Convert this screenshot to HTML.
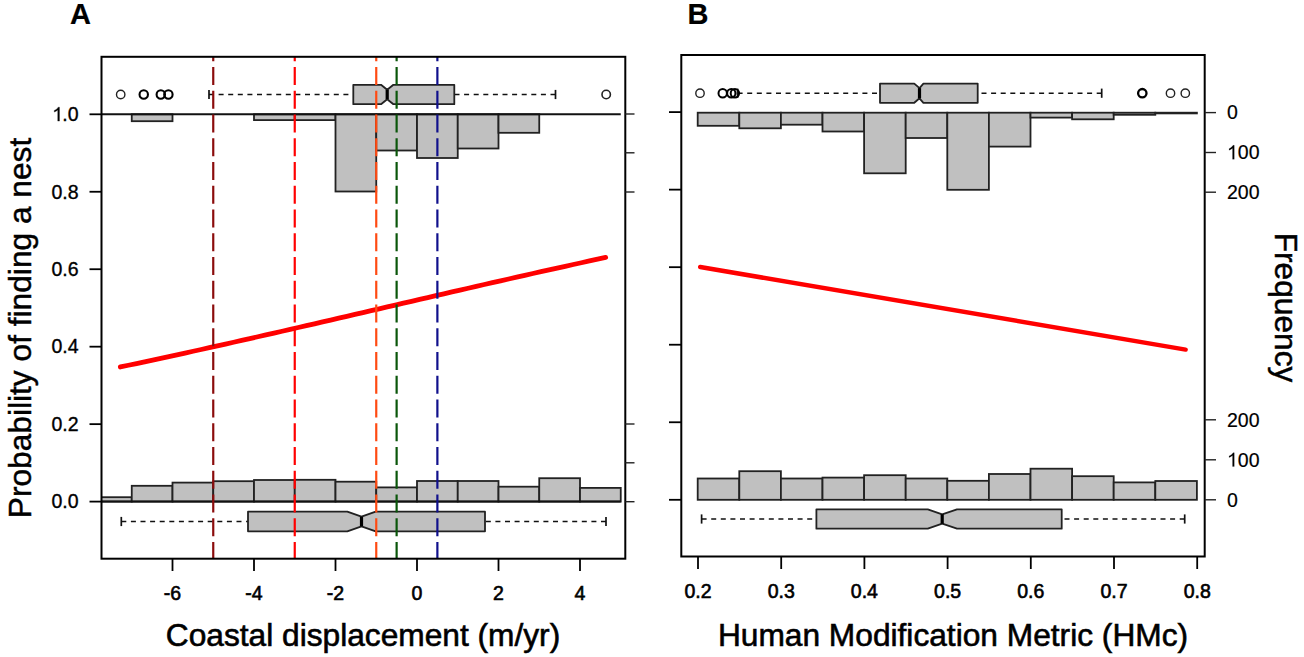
<!DOCTYPE html>
<html><head><meta charset="utf-8"><style>html,body{margin:0;padding:0;background:#fff;width:1304px;height:657px;overflow:hidden}</style></head><body>
<svg width="1304" height="657" viewBox="0 0 1304 657" style="display:block">
<rect width="1304" height="657" fill="#fff"/>
<g font-family='"Liberation Sans", sans-serif' fill="#000">
<defs><clipPath id="cA"><rect x="101.5" y="56.8" width="523.8" height="501.90000000000003"/></clipPath><clipPath id="cB"><rect x="681.3" y="55.0" width="523.4000000000001" height="501.5"/></clipPath></defs>
<g clip-path="url(#cA)">
<rect x="131.75" y="114.30" width="40.75" height="6.90" fill="#c0c0c0" stroke="#222" stroke-width="1.8"/>
<rect x="254.00" y="114.30" width="40.75" height="5.80" fill="#c0c0c0" stroke="#222" stroke-width="1.8"/>
<rect x="294.75" y="114.30" width="40.75" height="5.80" fill="#c0c0c0" stroke="#222" stroke-width="1.8"/>
<rect x="335.50" y="114.30" width="40.75" height="77.20" fill="#c0c0c0" stroke="#222" stroke-width="1.8"/>
<rect x="376.25" y="114.30" width="40.75" height="36.20" fill="#c0c0c0" stroke="#222" stroke-width="1.8"/>
<rect x="417.00" y="114.30" width="40.75" height="43.70" fill="#c0c0c0" stroke="#222" stroke-width="1.8"/>
<rect x="457.75" y="114.30" width="40.75" height="34.20" fill="#c0c0c0" stroke="#222" stroke-width="1.8"/>
<rect x="498.50" y="114.30" width="40.75" height="18.50" fill="#c0c0c0" stroke="#222" stroke-width="1.8"/>
<rect x="91.00" y="497.20" width="40.75" height="4.40" fill="#c0c0c0" stroke="#222" stroke-width="1.8"/>
<rect x="131.75" y="485.80" width="40.75" height="15.80" fill="#c0c0c0" stroke="#222" stroke-width="1.8"/>
<rect x="172.50" y="482.60" width="40.75" height="19.00" fill="#c0c0c0" stroke="#222" stroke-width="1.8"/>
<rect x="213.25" y="481.20" width="40.75" height="20.40" fill="#c0c0c0" stroke="#222" stroke-width="1.8"/>
<rect x="254.00" y="480.00" width="40.75" height="21.60" fill="#c0c0c0" stroke="#222" stroke-width="1.8"/>
<rect x="294.75" y="479.80" width="40.75" height="21.80" fill="#c0c0c0" stroke="#222" stroke-width="1.8"/>
<rect x="335.50" y="481.70" width="40.75" height="19.90" fill="#c0c0c0" stroke="#222" stroke-width="1.8"/>
<rect x="376.25" y="487.40" width="40.75" height="14.20" fill="#c0c0c0" stroke="#222" stroke-width="1.8"/>
<rect x="417.00" y="481.00" width="40.75" height="20.60" fill="#c0c0c0" stroke="#222" stroke-width="1.8"/>
<rect x="457.75" y="481.00" width="40.75" height="20.60" fill="#c0c0c0" stroke="#222" stroke-width="1.8"/>
<rect x="498.50" y="486.70" width="40.75" height="14.90" fill="#c0c0c0" stroke="#222" stroke-width="1.8"/>
<rect x="539.25" y="478.20" width="40.75" height="23.40" fill="#c0c0c0" stroke="#222" stroke-width="1.8"/>
<rect x="580.00" y="487.90" width="40.75" height="13.70" fill="#c0c0c0" stroke="#222" stroke-width="1.8"/>
<line x1="91.00" y1="114.30" x2="620.75" y2="114.30" stroke="#111" stroke-width="2.0" />
<line x1="91.00" y1="501.60" x2="620.75" y2="501.60" stroke="#111" stroke-width="2.0" />
</g>
<line x1="209.00" y1="94.50" x2="353.30" y2="94.50" stroke="#111" stroke-width="1.5" stroke-dasharray="5 4.6"/>
<line x1="555.50" y1="94.50" x2="454.30" y2="94.50" stroke="#111" stroke-width="1.5" stroke-dasharray="5 4.6"/>
<line x1="209.00" y1="89.90" x2="209.00" y2="99.10" stroke="#111" stroke-width="1.7" />
<line x1="555.50" y1="89.90" x2="555.50" y2="99.10" stroke="#111" stroke-width="1.7" />
<polygon points="353.30,84.80 381.00,84.80 387.20,89.80 393.40,84.80 454.30,84.80 454.30,104.20 393.40,104.20 387.20,99.20 381.00,104.20 353.30,104.20" fill="#c0c0c0" stroke="#222" stroke-width="1.8" stroke-linejoin="round"/>
<line x1="387.20" y1="89.80" x2="387.20" y2="99.20" stroke="#000" stroke-width="3.2" />
<circle cx="120.70" cy="94.50" r="4.2" fill="none" stroke="#222" stroke-width="1.4"/>
<circle cx="143.75" cy="94.50" r="4.2" fill="none" stroke="#000" stroke-width="2.1"/>
<circle cx="160.80" cy="94.50" r="4.2" fill="none" stroke="#000" stroke-width="2.1"/>
<circle cx="168.40" cy="94.50" r="4.2" fill="none" stroke="#000" stroke-width="2.1"/>
<circle cx="606.20" cy="94.50" r="4.2" fill="none" stroke="#222" stroke-width="1.6"/>
<line x1="121.30" y1="521.50" x2="248.00" y2="521.50" stroke="#111" stroke-width="1.5" stroke-dasharray="5 4.6"/>
<line x1="606.00" y1="521.50" x2="485.00" y2="521.50" stroke="#111" stroke-width="1.5" stroke-dasharray="5 4.6"/>
<line x1="121.30" y1="516.90" x2="121.30" y2="526.10" stroke="#111" stroke-width="1.7" />
<line x1="606.00" y1="516.90" x2="606.00" y2="526.10" stroke="#111" stroke-width="1.7" />
<polygon points="248.00,511.70 347.30,511.70 361.50,516.70 375.70,511.70 485.00,511.70 485.00,531.30 375.70,531.30 361.50,526.30 347.30,531.30 248.00,531.30" fill="#c0c0c0" stroke="#222" stroke-width="1.8" stroke-linejoin="round"/>
<line x1="361.50" y1="516.70" x2="361.50" y2="526.30" stroke="#000" stroke-width="3.2" />
<polyline points="120.34,366.97 128.43,365.26 136.52,363.54 144.61,361.82 152.70,360.08 160.78,358.33 168.87,356.58 176.96,354.81 185.05,353.04 193.14,351.26 201.23,349.47 209.32,347.68 217.41,345.88 225.50,344.07 233.58,342.25 241.67,340.43 249.76,338.60 257.85,336.77 265.94,334.93 274.03,333.09 282.12,331.24 290.21,329.39 298.30,327.53 306.38,325.67 314.47,323.80 322.56,321.94 330.65,320.07 338.74,318.20 346.83,316.32 354.92,314.45 363.01,312.57 371.10,310.70 379.18,308.82 387.27,306.94 395.36,305.06 403.45,303.19 411.54,301.31 419.63,299.43 427.72,297.56 435.81,295.69 443.89,293.82 451.98,291.95 460.07,290.09 468.16,288.23 476.25,286.37 484.34,284.52 492.43,282.67 500.52,280.83 508.61,278.99 516.69,277.16 524.78,275.33 532.87,273.51 540.96,271.70 549.05,269.89 557.14,268.09 565.23,266.29 573.32,264.50 581.41,262.72 589.49,260.95 597.58,259.19 605.67,257.44" fill="none" stroke="#ff0000" stroke-width="4.8" stroke-linecap="round" stroke-linejoin="round"/>
<g clip-path="url(#cA)">
<line x1="213.25" y1="56.80" x2="213.25" y2="558.70" stroke="#8b0c0c" stroke-width="2.2" stroke-dasharray="18.1 5.65" stroke-dashoffset="13.65"/>
<line x1="294.75" y1="56.80" x2="294.75" y2="558.70" stroke="#ff0000" stroke-width="2.2" stroke-dasharray="18.1 5.65" stroke-dashoffset="13.65"/>
<line x1="376.25" y1="56.80" x2="376.25" y2="558.70" stroke="#ff4a12" stroke-width="2.2" stroke-dasharray="18.1 5.65" stroke-dashoffset="13.65"/>
<line x1="396.62" y1="56.80" x2="396.62" y2="558.70" stroke="#0a560a" stroke-width="2.2" stroke-dasharray="18.1 5.65" stroke-dashoffset="13.65"/>
<line x1="437.38" y1="56.80" x2="437.38" y2="558.70" stroke="#10108c" stroke-width="2.2" stroke-dasharray="18.1 5.65" stroke-dashoffset="13.65"/>
</g>
<rect x="101.5" y="56.8" width="523.80" height="501.90" fill="none" stroke="#000" stroke-width="2"/>
<line x1="89.50" y1="501.60" x2="101.50" y2="501.60" stroke="#000" stroke-width="1.8" />
<text x="78.50" y="508.40" font-size="19.5" text-anchor="end" font-weight="normal" stroke="#000" stroke-width="0.35">0.0</text>
<line x1="89.50" y1="424.14" x2="101.50" y2="424.14" stroke="#000" stroke-width="1.8" />
<text x="78.50" y="430.94" font-size="19.5" text-anchor="end" font-weight="normal" stroke="#000" stroke-width="0.35">0.2</text>
<line x1="89.50" y1="346.68" x2="101.50" y2="346.68" stroke="#000" stroke-width="1.8" />
<text x="78.50" y="353.48" font-size="19.5" text-anchor="end" font-weight="normal" stroke="#000" stroke-width="0.35">0.4</text>
<line x1="89.50" y1="269.22" x2="101.50" y2="269.22" stroke="#000" stroke-width="1.8" />
<text x="78.50" y="276.02" font-size="19.5" text-anchor="end" font-weight="normal" stroke="#000" stroke-width="0.35">0.6</text>
<line x1="89.50" y1="191.76" x2="101.50" y2="191.76" stroke="#000" stroke-width="1.8" />
<text x="78.50" y="198.56" font-size="19.5" text-anchor="end" font-weight="normal" stroke="#000" stroke-width="0.35">0.8</text>
<line x1="89.50" y1="114.30" x2="101.50" y2="114.30" stroke="#000" stroke-width="1.8" />
<text x="78.50" y="121.10" font-size="19.5" text-anchor="end" font-weight="normal" stroke="#000" stroke-width="0.35">&#8199;.0</text>
<path d="M59.46,121.10 L59.46,107.14 L58.29,107.14 L57.53,108.15 L56.19,109.39 L54.27,110.45 L54.27,112.10 L56.00,111.20 L57.75,110.01 L57.75,121.10Z" fill="#000" stroke="#000" stroke-width="0.3" stroke-linejoin="round"/>
<line x1="172.50" y1="558.70" x2="172.50" y2="571.00" stroke="#000" stroke-width="1.8" />
<text x="172.50" y="600.00" font-size="19.5" text-anchor="middle" font-weight="normal" stroke="#000" stroke-width="0.6" >-6</text>
<line x1="254.00" y1="558.70" x2="254.00" y2="571.00" stroke="#000" stroke-width="1.8" />
<text x="254.00" y="600.00" font-size="19.5" text-anchor="middle" font-weight="normal" stroke="#000" stroke-width="0.6" >-4</text>
<line x1="335.50" y1="558.70" x2="335.50" y2="571.00" stroke="#000" stroke-width="1.8" />
<text x="335.50" y="600.00" font-size="19.5" text-anchor="middle" font-weight="normal" stroke="#000" stroke-width="0.6" >-2</text>
<line x1="417.00" y1="558.70" x2="417.00" y2="571.00" stroke="#000" stroke-width="1.8" />
<text x="417.00" y="600.00" font-size="19.5" text-anchor="middle" font-weight="normal" stroke="#000" stroke-width="0.6" >0</text>
<line x1="498.50" y1="558.70" x2="498.50" y2="571.00" stroke="#000" stroke-width="1.8" />
<text x="498.50" y="600.00" font-size="19.5" text-anchor="middle" font-weight="normal" stroke="#000" stroke-width="0.6" >2</text>
<line x1="580.00" y1="558.70" x2="580.00" y2="571.00" stroke="#000" stroke-width="1.8" />
<text x="580.00" y="600.00" font-size="19.5" text-anchor="middle" font-weight="normal" stroke="#000" stroke-width="0.6" >4</text>
<line x1="625.30" y1="114.00" x2="634.50" y2="114.00" stroke="#222" stroke-width="1.4" />
<line x1="625.30" y1="152.80" x2="634.50" y2="152.80" stroke="#222" stroke-width="1.4" />
<line x1="625.30" y1="192.00" x2="634.50" y2="192.00" stroke="#222" stroke-width="1.4" />
<line x1="625.30" y1="424.00" x2="634.50" y2="424.00" stroke="#222" stroke-width="1.4" />
<line x1="625.30" y1="462.80" x2="634.50" y2="462.80" stroke="#222" stroke-width="1.4" />
<line x1="625.30" y1="501.70" x2="634.50" y2="501.70" stroke="#222" stroke-width="1.4" />
<g clip-path="url(#cB)">
<rect x="697.70" y="112.70" width="41.60" height="13.10" fill="#c0c0c0" stroke="#222" stroke-width="1.8"/>
<rect x="697.70" y="478.50" width="41.60" height="21.30" fill="#c0c0c0" stroke="#222" stroke-width="1.8"/>
<rect x="739.30" y="112.70" width="41.60" height="15.60" fill="#c0c0c0" stroke="#222" stroke-width="1.8"/>
<rect x="739.30" y="471.20" width="41.60" height="28.60" fill="#c0c0c0" stroke="#222" stroke-width="1.8"/>
<rect x="780.90" y="112.70" width="41.60" height="12.00" fill="#c0c0c0" stroke="#222" stroke-width="1.8"/>
<rect x="780.90" y="478.50" width="41.60" height="21.30" fill="#c0c0c0" stroke="#222" stroke-width="1.8"/>
<rect x="822.50" y="112.70" width="41.60" height="18.80" fill="#c0c0c0" stroke="#222" stroke-width="1.8"/>
<rect x="822.50" y="477.60" width="41.60" height="22.20" fill="#c0c0c0" stroke="#222" stroke-width="1.8"/>
<rect x="864.10" y="112.70" width="41.60" height="60.60" fill="#c0c0c0" stroke="#222" stroke-width="1.8"/>
<rect x="864.10" y="475.20" width="41.60" height="24.60" fill="#c0c0c0" stroke="#222" stroke-width="1.8"/>
<rect x="905.70" y="112.70" width="41.60" height="25.30" fill="#c0c0c0" stroke="#222" stroke-width="1.8"/>
<rect x="905.70" y="478.50" width="41.60" height="21.30" fill="#c0c0c0" stroke="#222" stroke-width="1.8"/>
<rect x="947.30" y="112.70" width="41.60" height="77.10" fill="#c0c0c0" stroke="#222" stroke-width="1.8"/>
<rect x="947.30" y="480.80" width="41.60" height="19.00" fill="#c0c0c0" stroke="#222" stroke-width="1.8"/>
<rect x="988.90" y="112.70" width="41.60" height="33.90" fill="#c0c0c0" stroke="#222" stroke-width="1.8"/>
<rect x="988.90" y="474.00" width="41.60" height="25.80" fill="#c0c0c0" stroke="#222" stroke-width="1.8"/>
<rect x="1030.50" y="112.70" width="41.60" height="4.90" fill="#c0c0c0" stroke="#222" stroke-width="1.8"/>
<rect x="1030.50" y="468.70" width="41.60" height="31.10" fill="#c0c0c0" stroke="#222" stroke-width="1.8"/>
<rect x="1072.10" y="112.70" width="41.60" height="6.60" fill="#c0c0c0" stroke="#222" stroke-width="1.8"/>
<rect x="1072.10" y="476.20" width="41.60" height="23.60" fill="#c0c0c0" stroke="#222" stroke-width="1.8"/>
<rect x="1113.70" y="112.70" width="41.60" height="2.10" fill="#c0c0c0" stroke="#222" stroke-width="1.8"/>
<rect x="1113.70" y="482.40" width="41.60" height="17.40" fill="#c0c0c0" stroke="#222" stroke-width="1.8"/>
<rect x="1155.30" y="112.70" width="41.60" height="0.70" fill="#c0c0c0" stroke="#222" stroke-width="1.8"/>
<rect x="1155.30" y="481.00" width="41.60" height="18.80" fill="#c0c0c0" stroke="#222" stroke-width="1.8"/>
</g>
<line x1="737.60" y1="93.20" x2="880.00" y2="93.20" stroke="#111" stroke-width="1.5" stroke-dasharray="5 4.6"/>
<line x1="1101.70" y1="93.20" x2="977.70" y2="93.20" stroke="#111" stroke-width="1.5" stroke-dasharray="5 4.6"/>
<line x1="737.60" y1="88.60" x2="737.60" y2="97.80" stroke="#111" stroke-width="1.7" />
<line x1="1101.70" y1="88.60" x2="1101.70" y2="97.80" stroke="#111" stroke-width="1.7" />
<polygon points="880.00,83.60 914.30,83.60 919.50,88.10 923.40,83.60 977.70,83.60 977.70,102.80 923.40,102.80 919.50,98.30 914.30,102.80 880.00,102.80" fill="#c0c0c0" stroke="#222" stroke-width="1.8" stroke-linejoin="round"/>
<line x1="919.50" y1="88.10" x2="919.50" y2="98.30" stroke="#000" stroke-width="3.2" />
<circle cx="700.00" cy="93.20" r="4.2" fill="none" stroke="#222" stroke-width="1.4"/>
<circle cx="722.70" cy="93.20" r="4.2" fill="none" stroke="#000" stroke-width="2.0"/>
<circle cx="731.30" cy="93.20" r="4.2" fill="none" stroke="#000" stroke-width="2.1"/>
<circle cx="734.90" cy="93.20" r="4.2" fill="none" stroke="#000" stroke-width="2.0"/>
<circle cx="1142.30" cy="93.20" r="4.2" fill="none" stroke="#000" stroke-width="2.3"/>
<circle cx="1170.50" cy="93.20" r="4.2" fill="none" stroke="#222" stroke-width="1.4"/>
<circle cx="1185.30" cy="93.20" r="4.2" fill="none" stroke="#222" stroke-width="1.4"/>
<line x1="701.60" y1="519.00" x2="816.40" y2="519.00" stroke="#111" stroke-width="1.5" stroke-dasharray="5 4.6"/>
<line x1="1184.70" y1="519.00" x2="1061.70" y2="519.00" stroke="#111" stroke-width="1.5" stroke-dasharray="5 4.6"/>
<line x1="701.60" y1="514.40" x2="701.60" y2="523.60" stroke="#111" stroke-width="1.7" />
<line x1="1184.70" y1="514.40" x2="1184.70" y2="523.60" stroke="#111" stroke-width="1.7" />
<polygon points="816.40,509.30 927.80,509.30 942.20,514.30 957.00,509.30 1061.70,509.30 1061.70,528.70 957.00,528.70 942.20,523.70 927.80,528.70 816.40,528.70" fill="#c0c0c0" stroke="#222" stroke-width="1.8" stroke-linejoin="round"/>
<line x1="942.20" y1="514.30" x2="942.20" y2="523.70" stroke="#000" stroke-width="3.2" />
<polyline points="700.20,267.00 1185.60,349.60" fill="none" stroke="#ff0000" stroke-width="4.5" stroke-linecap="round"/>
<rect x="681.3" y="55.0" width="523.40" height="501.50" fill="none" stroke="#000" stroke-width="2"/>
<line x1="669.00" y1="499.80" x2="681.30" y2="499.80" stroke="#000" stroke-width="1.8" />
<line x1="669.00" y1="422.26" x2="681.30" y2="422.26" stroke="#000" stroke-width="1.8" />
<line x1="669.00" y1="344.72" x2="681.30" y2="344.72" stroke="#000" stroke-width="1.8" />
<line x1="669.00" y1="267.18" x2="681.30" y2="267.18" stroke="#000" stroke-width="1.8" />
<line x1="669.00" y1="189.64" x2="681.30" y2="189.64" stroke="#000" stroke-width="1.8" />
<line x1="669.00" y1="112.10" x2="681.30" y2="112.10" stroke="#000" stroke-width="1.8" />
<line x1="698.00" y1="556.50" x2="698.00" y2="569.00" stroke="#000" stroke-width="1.8" />
<text x="698.00" y="597.50" font-size="19.5" text-anchor="middle" font-weight="normal" stroke="#000" stroke-width="0.6" >0.2</text>
<line x1="781.20" y1="556.50" x2="781.20" y2="569.00" stroke="#000" stroke-width="1.8" />
<text x="781.20" y="597.50" font-size="19.5" text-anchor="middle" font-weight="normal" stroke="#000" stroke-width="0.6" >0.3</text>
<line x1="864.40" y1="556.50" x2="864.40" y2="569.00" stroke="#000" stroke-width="1.8" />
<text x="864.40" y="597.50" font-size="19.5" text-anchor="middle" font-weight="normal" stroke="#000" stroke-width="0.6" >0.4</text>
<line x1="947.60" y1="556.50" x2="947.60" y2="569.00" stroke="#000" stroke-width="1.8" />
<text x="947.60" y="597.50" font-size="19.5" text-anchor="middle" font-weight="normal" stroke="#000" stroke-width="0.6" >0.5</text>
<line x1="1030.80" y1="556.50" x2="1030.80" y2="569.00" stroke="#000" stroke-width="1.8" />
<text x="1030.80" y="597.50" font-size="19.5" text-anchor="middle" font-weight="normal" stroke="#000" stroke-width="0.6" >0.6</text>
<line x1="1114.00" y1="556.50" x2="1114.00" y2="569.00" stroke="#000" stroke-width="1.8" />
<text x="1114.00" y="597.50" font-size="19.5" text-anchor="middle" font-weight="normal" stroke="#000" stroke-width="0.6" >0.7</text>
<line x1="1197.20" y1="556.50" x2="1197.20" y2="569.00" stroke="#000" stroke-width="1.8" />
<text x="1197.20" y="597.50" font-size="19.5" text-anchor="middle" font-weight="normal" stroke="#000" stroke-width="0.6" >0.8</text>
<line x1="1204.70" y1="112.60" x2="1216.00" y2="112.60" stroke="#222" stroke-width="1.4" />
<text x="1227.00" y="119.40" font-size="19.5" text-anchor="start" font-weight="normal" stroke="#000" stroke-width="0.2">0</text>
<line x1="1204.70" y1="152.50" x2="1216.00" y2="152.50" stroke="#222" stroke-width="1.4" />
<text x="1227.00" y="159.30" font-size="19.5" text-anchor="start" font-weight="normal" stroke="#000" stroke-width="0.2">&#8199;00</text>
<path d="M1234.26,159.30 L1234.26,145.34 L1233.09,145.34 L1232.33,146.35 L1231.00,147.59 L1229.08,148.65 L1229.08,150.30 L1230.81,149.40 L1232.55,148.21 L1232.55,159.30Z" fill="#000" stroke="#000" stroke-width="0.15" stroke-linejoin="round"/>
<line x1="1204.70" y1="192.20" x2="1216.00" y2="192.20" stroke="#222" stroke-width="1.4" />
<text x="1227.00" y="199.00" font-size="19.5" text-anchor="start" font-weight="normal" stroke="#000" stroke-width="0.2">200</text>
<line x1="1204.70" y1="499.80" x2="1216.00" y2="499.80" stroke="#222" stroke-width="1.4" />
<text x="1227.00" y="506.60" font-size="19.5" text-anchor="start" font-weight="normal" stroke="#000" stroke-width="0.2">0</text>
<line x1="1204.70" y1="459.80" x2="1216.00" y2="459.80" stroke="#222" stroke-width="1.4" />
<text x="1227.00" y="466.60" font-size="19.5" text-anchor="start" font-weight="normal" stroke="#000" stroke-width="0.2">&#8199;00</text>
<path d="M1234.26,466.60 L1234.26,452.64 L1233.09,452.64 L1232.33,453.65 L1231.00,454.89 L1229.08,455.95 L1229.08,457.60 L1230.81,456.70 L1232.55,455.51 L1232.55,466.60Z" fill="#000" stroke="#000" stroke-width="0.15" stroke-linejoin="round"/>
<line x1="1204.70" y1="419.80" x2="1216.00" y2="419.80" stroke="#222" stroke-width="1.4" />
<text x="1227.00" y="426.60" font-size="19.5" text-anchor="start" font-weight="normal" stroke="#000" stroke-width="0.2">200</text>
<text x="70.00" y="24.00" font-size="29" text-anchor="start" font-weight="bold" stroke="#000" stroke-width="0.2">A</text>
<text x="687.50" y="24.00" font-size="29" text-anchor="start" font-weight="bold" stroke="#000" stroke-width="0.2">B</text>
<text x="363.00" y="645.50" font-size="31.7" text-anchor="middle" font-weight="normal" stroke="#000" stroke-width="0.6" >Coastal displacement (m/yr)</text>
<text x="953.00" y="645.50" font-size="31.7" text-anchor="middle" font-weight="normal" stroke="#000" stroke-width="0.6" >Human Modification Metric (HMc)</text>
<text transform="translate(31.3,328) rotate(-90)" font-size="31.7" stroke="#000" stroke-width="0.45" text-anchor="middle">Probability of finding a nest</text>
<text transform="translate(1275,307.5) rotate(90)" font-size="31.7" stroke="#000" stroke-width="0.45" text-anchor="middle">Frequency</text>
</g></svg>
</body></html>
